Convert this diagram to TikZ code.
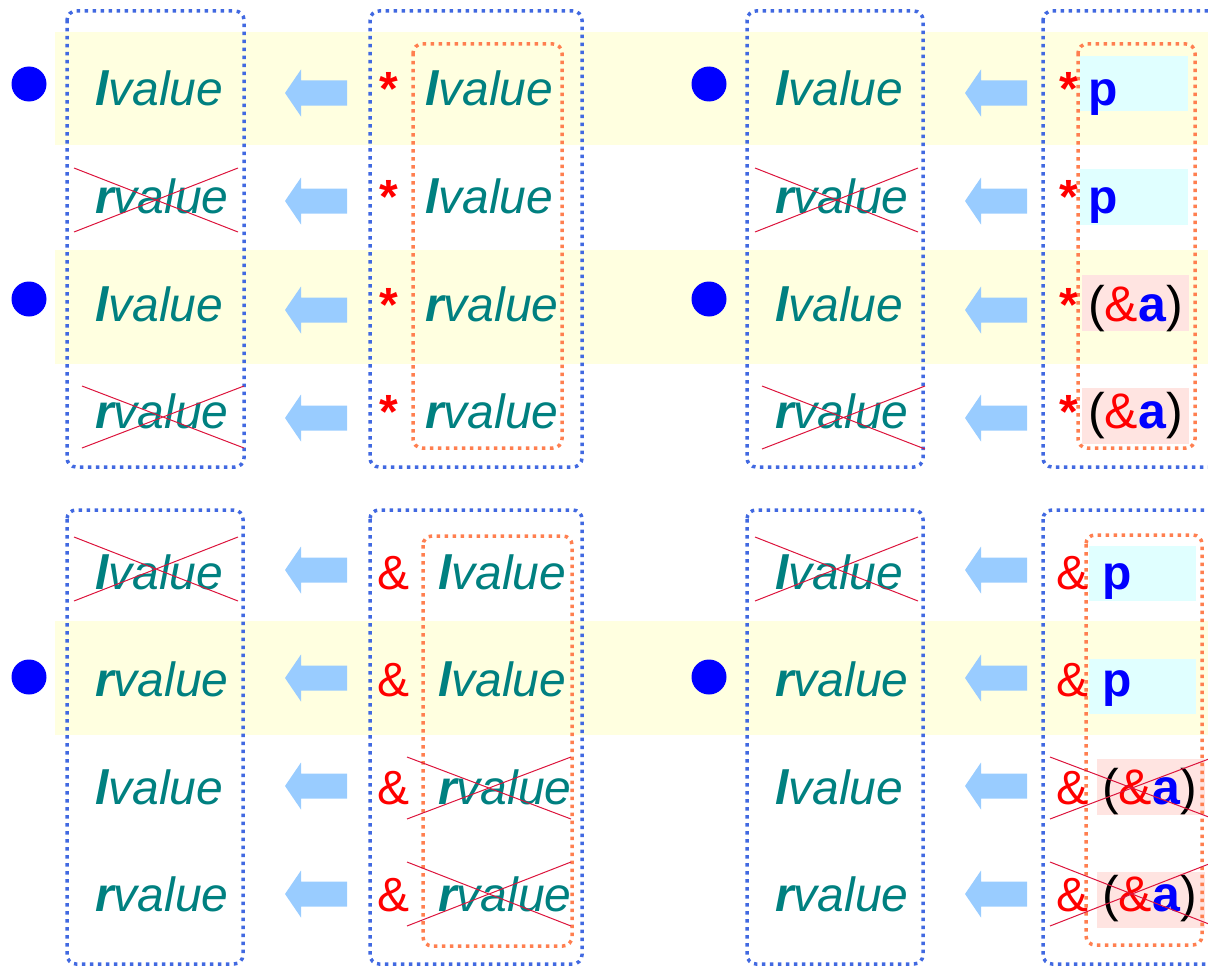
\documentclass[tikz,border=0pt]{standalone}
\usepackage{fontspec}
\setmainfont{Liberation Sans}
\definecolor{bandyellow}{HTML}{FFFFE0}
\definecolor{boxblue}{HTML}{4169E1}
\definecolor{coralc}{HTML}{FF7F50}
\definecolor{arrowblue}{HTML}{99CCFF}
\definecolor{tealtext}{HTML}{008080}
\definecolor{crossred}{HTML}{DC143C}
\definecolor{cyanbg}{HTML}{E0FFFF}
\definecolor{pinkbg}{HTML}{FFE4E1}
\newcommand\lval{{\bfseries l}value}
\newcommand\rval{{\bfseries r}value}
\newcommand\amptxt{(\textcolor{red}{\&}\textcolor{blue}{\bfseries a})}
\begin{document}
\begin{tikzpicture}[x=1pt,y=-1pt,
  band/.style={fill=bandyellow},
  bluebox/.style={draw=boxblue, line width=3.5pt, dash pattern=on 3.5pt off 4.5pt, rounded corners=9pt},
  orangebox/.style={draw=coralc, line width=3.5pt, dash pattern=on 3.5pt off 4.5pt, rounded corners=9pt},
  bdot/.style={circle, fill=blue, minimum size=35pt, inner sep=0pt},
  val/.style={anchor=base west, inner sep=0pt, text=tealtext, font=\fontsize{48}{50}\selectfont\itshape},
  star/.style={anchor=base west, inner sep=0pt, text=red, font=\fontsize{48}{50}\selectfont\bfseries},
  amp/.style={anchor=base west, inner sep=0pt, text=red, font=\fontsize{48}{50}\selectfont},
  pvar/.style={anchor=base west, inner sep=0pt, text=blue, font=\fontsize{48}{50}\selectfont\bfseries},
  addr/.style={anchor=base west, inner sep=0pt, text=black, font=\fontsize{50}{52}\selectfont},
  cross/.style={draw=crossred, line width=1pt},
  larrow/.pic={\fill[arrowblue] (0,0) -- (16,-23.5) -- (16,-12.5) -- (62,-12.5) -- (62,12.5) -- (16,12.5) -- (16,23.5) -- cycle;}
]
\useasboundingbox (0,0) rectangle (1208,966);
\clip (0,0) rectangle (1208,966);

% yellow bands
\fill[band] (55,32) rectangle (1208,145);
\fill[band] (55,250) rectangle (1208,364);
\fill[band] (55,621) rectangle (1208,735);

% highlight boxes
\fill[cyanbg] (1080,56) rectangle (1188,111);
\fill[cyanbg] (1080,169) rectangle (1188,225);
\fill[pinkbg] (1082,275) rectangle (1189,331);
\fill[pinkbg] (1082,388) rectangle (1189,444);
\fill[cyanbg] (1089,546) rectangle (1196,601);
\fill[cyanbg] (1089,659) rectangle (1196,714);
\fill[pinkbg] (1097,759) rectangle (1205,815);
\fill[pinkbg] (1097,872) rectangle (1205,928);

% dotted boxes
\draw[bluebox] (67,11) rectangle (244,467);
\draw[bluebox] (370,11) rectangle (582,467);
\draw[orangebox] (413,44) rectangle (562,448);
\draw[bluebox] (747,11) rectangle (923,467);
\draw[bluebox] (1043,11) rectangle (1240,467);
\draw[orangebox] (1078,44) rectangle (1195,448);
\draw[bluebox] (67,510) rectangle (243,964);
\draw[bluebox] (370,510) rectangle (582,964);
\draw[orangebox] (423,536) rectangle (572,946);
\draw[bluebox] (747,510) rectangle (923,964);
\draw[bluebox] (1043,510) rectangle (1240,964);
\draw[orangebox] (1086,535) rectangle (1202,945);

% dots
\node[bdot] (d1) at (29,84) {};
\node[bdot] (d2) at (29,299) {};
\node[bdot] (d3) at (709,84) {};
\node[bdot] (d4) at (709,299) {};
\node[bdot] (d5) at (29,677) {};
\node[bdot] (d6) at (709,677) {};

% arrows
\foreach \x in {285,965} {
  \foreach \y in {93,201,310,418,570,678,786,894} {
    \pic at (\x,\y) {larrow};
  }
}

% ---- top-left quadrant
\node[val] (tla1) at (95,106) {\lval};
\node[val] (tla2) at (95,213) {\rval};
\node[val] (tla3) at (95,321) {\lval};
\node[val] (tla4) at (95,428) {\rval};
\node[star] (tls1) at (379,106) {*};
\node[star] (tls2) at (379,213) {*};
\node[star] (tls3) at (379,321) {*};
\node[star] (tls4) at (379,428) {*};
\node[val] (tlb1) at (425,106) {\lval};
\node[val] (tlb2) at (425,213) {\lval};
\node[val] (tlb3) at (425,321) {\rval};
\node[val] (tlb4) at (425,428) {\rval};

% ---- top-right quadrant
\node[val] (tra1) at (775,106) {\lval};
\node[val] (tra2) at (775,213) {\rval};
\node[val] (tra3) at (775,321) {\lval};
\node[val] (tra4) at (775,428) {\rval};
\node[star] (trs1) at (1059,106) {*};
\node[star] (trs2) at (1059,213) {*};
\node[star] (trs3) at (1059,321) {*};
\node[star] (trs4) at (1059,428) {*};
\node[pvar] (trb1) at (1088,106) {p};
\node[pvar] (trb2) at (1088,213) {p};
\node[addr] (trb3) at (1088,321) {\amptxt};
\node[addr] (trb4) at (1088,428) {\amptxt};

% ---- bottom-left quadrant
\node[val] (bla1) at (95,589) {\lval};
\node[val] (bla2) at (95,696) {\rval};
\node[val] (bla3) at (95,804) {\lval};
\node[val] (bla4) at (95,911) {\rval};
\node[amp] (bls1) at (377,589) {\&};
\node[amp] (bls2) at (377,696) {\&};
\node[amp] (bls3) at (377,804) {\&};
\node[amp] (bls4) at (377,911) {\&};
\node[val] (blb1) at (438,589) {\lval};
\node[val] (blb2) at (438,696) {\lval};
\node[val] (blb3) at (438,804) {\rval};
\node[val] (blb4) at (438,911) {\rval};

% ---- bottom-right quadrant
\node[val] (bra1) at (775,589) {\lval};
\node[val] (bra2) at (775,696) {\rval};
\node[val] (bra3) at (775,804) {\lval};
\node[val] (bra4) at (775,911) {\rval};
\node[amp] (brs1) at (1056,589) {\&};
\node[amp] (brs2) at (1056,696) {\&};
\node[amp] (brs3) at (1056,804) {\&};
\node[amp] (brs4) at (1056,911) {\&};
\node[pvar] (brb1) at (1102,589) {p};
\node[pvar] (brb2) at (1102,696) {p};
\node[addr] (brb3) at (1102,804) {\amptxt};
\node[addr] (brb4) at (1102,911) {\amptxt};

% crosses
\draw[cross] (74,168) -- (238,232) (74,232) -- (238,168);
\draw[cross] (82,386) -- (244,448) (82,448) -- (244,386);
\draw[cross] (755,168) -- (918,232) (755,232) -- (918,168);
\draw[cross] (762,386) -- (925,449) (762,449) -- (925,386);
\draw[cross] (74,537) -- (238,601) (74,601) -- (238,537);
\draw[cross] (755,537) -- (918,601) (755,601) -- (918,537);
\draw[cross] (407,757) -- (571,819) (407,819) -- (571,757);
\draw[cross] (407,862) -- (571,926) (407,926) -- (571,862);
\draw[cross] (1050,757) -- (1214,819) (1050,819) -- (1214,757);
\draw[cross] (1050,862) -- (1214,926) (1050,926) -- (1214,862);
\end{tikzpicture}
\end{document}
